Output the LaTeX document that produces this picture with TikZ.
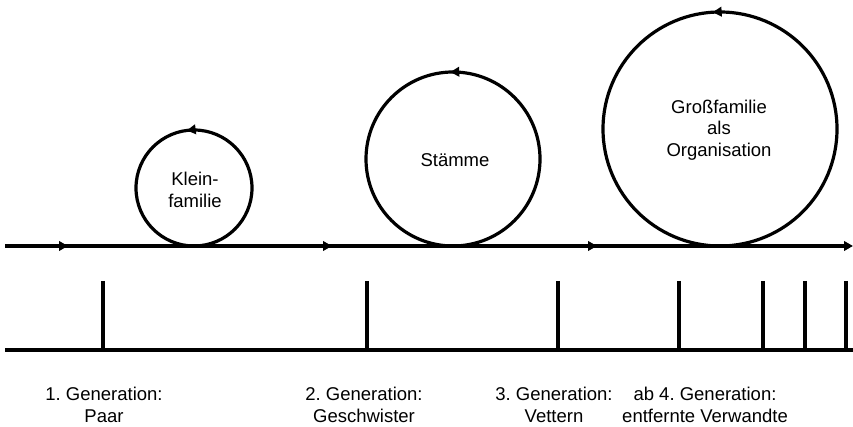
\documentclass[tikz,border=0pt]{standalone}
\usepackage{fontspec}
\setmainfont{Liberation Sans}
\usetikzlibrary{arrows.meta,decorations.markings}
\frenchspacing
\begin{document}
\begin{tikzpicture}[x=1pt,y=1pt,
  thick line/.style={line width=3.2pt},
  head/.tip={Triangle[length=9pt,width=9.5pt]},
  flow/.style={thick line,-head,postaction={decorate},
    decoration={markings,
      mark=at position 63pt with {\arrow{head}},
      mark=at position 327pt with {\arrow{head}},
      mark=at position 592pt with {\arrow{head}}}},
  cycle/.style={thick line,postaction={decorate},
    decoration={markings,mark=at position #1 with {\arrow{head}}}},
  cycle/.default=0.51,
  txt/.style={font=\fontsize{18.5}{21.5}\selectfont,align=center,inner sep=0pt}]
\useasboundingbox (0,0) rectangle (853,427);

% time axis with the three growth cycles
\coordinate (axisL) at (5,181);
\coordinate (axisR) at (853,181);
\draw[flow] (axisL) -- (axisR);

\coordinate (c1) at (194,239);
\coordinate (c2) at (453,268);
\coordinate (c3) at (720,298);
\draw[cycle=0.52] (c1) ++(0,-58) arc[start angle=-90,end angle=270,radius=58];
\draw[cycle=0.505] (c2) ++(0,-87) arc[start angle=-90,end angle=270,radius=87];
\draw[cycle=0.51] (c3) ++(0,-117) arc[start angle=-90,end angle=270,radius=117];

\node[txt] (klein) at (195,237) {Klein-\\familie};
\node[txt] (staemme) at (455,267) {Stämme};
\node[txt] (gross) at (719,297) {Großfamilie\\als\\Organisation};

% generation scale
\coordinate (scaleL) at (5,77);
\coordinate (scaleR) at (853,77);
\draw[thick line] (scaleL) -- (scaleR);
\foreach \x [count=\i] in {103,367,558,679,763,805,846} {
  \coordinate (t\i) at (\x,146);
  \draw[thick line] (t\i) -- (\x,77);
}

\node[txt] (g1) at (104,22) {1. Generation:\\Paar};
\node[txt] (g2) at (364,22) {2. Generation:\\Geschwister};
\node[txt] (g3) at (554,22) {3. Generation:\\Vettern};
\node[txt] (g4) at (705,22) {ab 4. Generation:\\entfernte Verwandte};
\end{tikzpicture}
\end{document}
